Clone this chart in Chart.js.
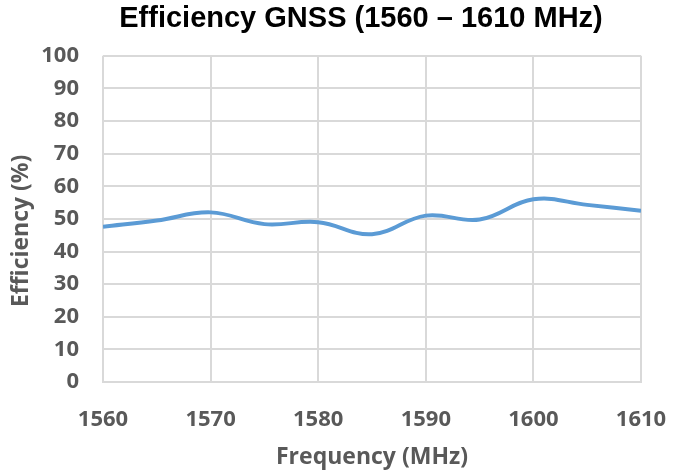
<!DOCTYPE html>
<html>
<head>
<meta charset="utf-8">
<script src="https://cdn.jsdelivr.net/npm/chart.js@4/dist/chart.umd.min.js"></script>
<style>
  html, body { margin: 0; padding: 0; background: #fff; }
  #wrap { width: 682px; height: 471px; }
</style>
</head>
<body>
<div id="wrap"><canvas id="myChart" width="682" height="471"></canvas></div>
<script>
// measured efficiency across the GNSS band
const frequency = [1560, 1565, 1570, 1575, 1580, 1585, 1590, 1595, 1600, 1605, 1610];
const efficiency = [47.6, 49.5, 52.0, 48.4, 49.0, 45.3, 51.0, 49.8, 56.0, 54.3, 52.5];
const xTicks = [1560, 1570, 1580, 1590, 1600, 1610];
const yTicks = [0, 10, 20, 30, 40, 50, 60, 70, 80, 90, 100];

const grey = '#595959';
const gridColor = '#d9d9d9';

const points = frequency.map(function (f, i) {
  return { x: f, y: efficiency[i] };
});

// centre the title a bit right of the canvas middle, over the plot
const titleShift = {
  id: 'titleShift',
  afterLayout: function (chart) {
    if (chart.titleBlock) {
      chart.titleBlock.left = 40;
      chart.titleBlock.right = 682;
    }
  }
};

function createChart() {
  var ctx = document.getElementById('myChart').getContext('2d');
  new Chart(ctx, {
    type: 'scatter',
    data: {
      datasets: [{
        label: 'Efficiency',
        data: points,
        showLine: true,
        borderColor: '#5b9bd5',
        borderWidth: 4,
        pointRadius: 0,
        tension: 0.4,
        fill: false
      }]
    },
    options: {
      responsive: false,
      animation: false,
      layout: { padding: { left: 0, right: 41, top: 0, bottom: 0 } },
      plugins: {
        legend: { display: false },
        tooltip: { enabled: false },
        title: {
          display: true,
          text: 'Efficiency GNSS (1560 \u2013 1610 MHz)',
          color: '#000',
          font: { family: '"Liberation Sans", Arial, sans-serif', size: 29, weight: 'bold' },
          padding: { top: 2, bottom: 19 }
        }
      },
      scales: {
        x: {
          type: 'linear',
          min: 1560,
          max: 1610,
          afterBuildTicks: function (scale) {
            scale.ticks = xTicks.map(function (v) { return { value: v }; });
          },
          afterFit: function (scale) {
            scale.height = 89;
            scale.paddingLeft = 0;
            scale.paddingRight = 0;
          },
          grid: { color: gridColor, lineWidth: 2, drawTicks: false },
          border: { color: gridColor, width: 2 },
          ticks: {
            color: grey,
            padding: 25,
            maxRotation: 0,
            callback: function (v) { return String(v); },
            font: { family: '"Open Sans", sans-serif', size: 22, weight: 'bold' }
          },
          title: {
            display: true,
            text: 'Frequency (MHz)',
            color: grey,
            padding: { top: 8, bottom: 0 },
            font: { family: '"Open Sans", sans-serif', size: 23, weight: 'bold' }
          }
        },
        y: {
          min: 0,
          max: 100,
          afterBuildTicks: function (scale) {
            scale.ticks = yTicks.map(function (v) { return { value: v }; });
          },
          afterFit: function (scale) { scale.width = 103; },
          grid: { color: gridColor, lineWidth: 2, drawTicks: false },
          border: { display: false },
          ticks: {
            color: grey,
            padding: 24,
            font: { family: '"Open Sans", sans-serif', size: 22, weight: 'bold' }
          },
          title: {
            display: true,
            // trailing spaces push the rotated label a little lower
            text: 'Efficiency (%)    ',
            color: grey,
            padding: { top: 8, bottom: 4 },
            font: { family: '"Open Sans", sans-serif', size: 23, weight: 'bold' }
          }
        }
      }
    },
    plugins: [titleShift]
  });
}
createChart();
</script>
</body>
</html>
